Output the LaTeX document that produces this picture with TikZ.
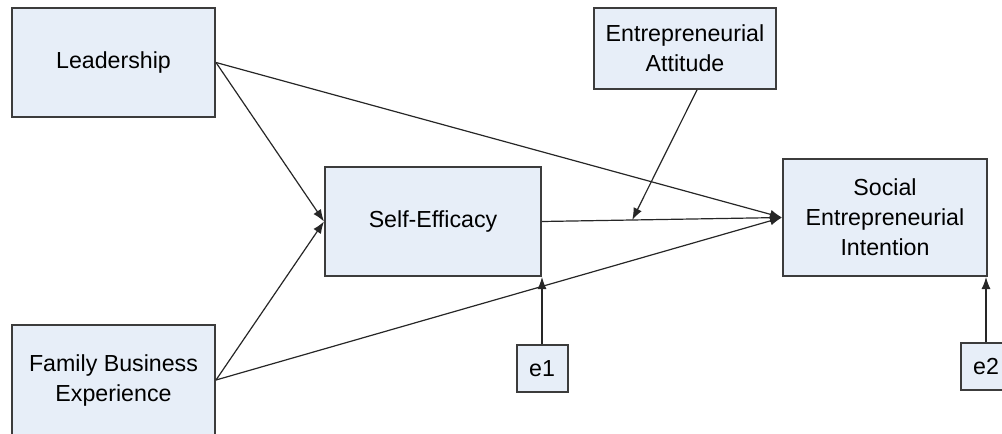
\documentclass[tikz,border=0pt]{standalone}
\usepackage{fontspec}
\setmainfont{Liberation Sans}
\usetikzlibrary{positioning,arrows.meta}
\definecolor{boxfill}{RGB}{231,238,248}
\definecolor{boxline}{RGB}{60,60,60}

\begin{document}
\begin{tikzpicture}[
  x=0.5pt, y=-0.5pt,
  var/.style={draw=boxline, fill=boxfill, line width=1pt, align=center, inner sep=2pt,
    font=\fontsize{11.6}{15}\selectfont},
  err/.style={var, minimum width=25.5pt, minimum height=23.5pt},
  arr/.style={-{Latex[length=6pt,width=4.5pt]}, line width=0.6pt, draw=black!85}
]
\useasboundingbox (0,0) rectangle (1002,434);
\node[var, minimum width=101.5pt, minimum height=54.5pt] (lead) at (113.5,62.5) {Leadership};
\node[var, minimum width=101.5pt, minimum height=55pt] (fam) at (113.5,380) {Family Business\\Experience};
\node[var, minimum width=108pt, minimum height=54.5pt] (se) at (433,221.5) {Self-Efficacy};
\node[var, minimum width=91pt, minimum height=40.5pt] (ea) at (685,48.5) {Entrepreneurial\\Attitude};
\node[var, minimum width=102pt, minimum height=58.5pt] (sei) at (885,217.5) {Social\\Entrepreneurial\\Intention};
\node[err, below=33.5pt of se.south east] (e1) {e1};
\node[err, below=32.5pt of sei.south east, xshift=-1pt] (e2) {e2};
% paths
\draw[arr] (lead.east) -- (se.west);
\draw[arr] (fam.east) -- (se.west);
\draw[arr] (lead.east) -- (sei.west);
\draw[arr] (fam.east) -- (sei.west);
\draw[arr] (se.east) -- coordinate[pos=0.376] (mod) (sei.west);
\draw[arr] ([xshift=6pt]ea.south) -- (mod);
\draw[arr] (e1.north) -- (se.south east);
\draw[arr] (e2.north) -- (e2.north |- sei.south);
\end{tikzpicture}
\end{document}
